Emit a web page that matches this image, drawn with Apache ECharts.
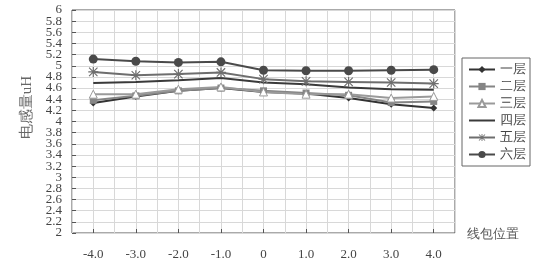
<!DOCTYPE html>
<html><head><meta charset="utf-8">
<script src="https://cdn.jsdelivr.net/npm/echarts@6/dist/echarts.min.js"></script>
<style>html,body{margin:0;padding:0;background:#fff}#c{width:540px;height:273px}</style>
</head><body><div id="c"></div>
<script>
const categories = ['-4.0','-3.0','-2.0','-1.0','0','1.0','2.0','3.0','4.0'];
const yTicks = [2, 2.2, 2.4, 2.6, 2.8, 3, 3.2, 3.4, 3.6, 3.8, 4, 4.2, 4.4, 4.6, 4.8, 5, 5.2, 5.4, 5.6, 5.8, 6];
const layer1 = [4.33, 4.45, 4.55, 4.60, 4.53, 4.50, 4.42, 4.31, 4.24];
const layer2 = [4.38, 4.46, 4.55, 4.60, 4.55, 4.51, 4.47, 4.34, 4.36];
const layer3 = [4.49, 4.49, 4.58, 4.62, 4.53, 4.49, 4.49, 4.42, 4.45];
const layer4 = [4.69, 4.71, 4.74, 4.78, 4.70, 4.67, 4.61, 4.58, 4.57];
const layer5 = [4.89, 4.83, 4.85, 4.88, 4.76, 4.72, 4.71, 4.70, 4.68];
const layer6 = [5.12, 5.08, 5.06, 5.07, 4.92, 4.91, 4.91, 4.92, 4.93];
const seriesNames = ['一层','二层','三层','四层','五层','六层'];
const yName = '电感量uH';
const xName = '线包位置';

const star = 'path://M0,4.4L10,4.4L10,5.6L0,5.6Z M4.4,0L5.6,0L5.6,10L4.4,10Z M1.2,0.4L9.6,8.8L8.8,9.6L0.4,1.2Z M8.8,0.4L9.6,1.2L1.2,9.6L0.4,8.8Z';
const font = 'Liberation Serif';
function mk(name, data, color, symbol, size, fill) {
  return {
    name, type: 'line', data, symbol, symbolSize: size, showSymbol: symbol !== 'none',
    lineStyle: {color, width: 2},
    itemStyle: {color: fill || color, borderColor: color, borderWidth: fill ? 1 : 0},
    xAxisIndex: 0, yAxisIndex: 0, animation: false
  };
}
const labelStyle = {fontSize: 13, color: '#444', fontFamily: font, margin: 10, hideOverlap: false,
  formatter: v => (Math.round(v * 10) / 10).toString()};
const chart = echarts.init(document.getElementById('c'));
chart.setOption({
  animation: false,
  backgroundColor: '#fff',
  grid: {left: 72, right: 85, top: 10, bottom: 40, show: true, borderColor: '#555', borderWidth: 1},
  legend: {
    orient: 'vertical', left: 462, top: 58,
    padding: [5, 4, 5, 6], itemGap: 4, itemWidth: 26, itemHeight: 9,
    borderColor: '#666', borderWidth: 1,
    textStyle: {fontSize: 13, color: '#444', fontFamily: font},
    data: seriesNames.map(n => n === '四层'
      ? {name: n, icon: 'path://M0,4L26,4L26,6L0,6Z'} : n)
  },
  xAxis: [{
    type: 'category', data: categories, boundaryGap: true,
    axisLine: {show: false},
    axisTick: {show: true, inside: true, alignWithLabel: true, length: 4, lineStyle: {color: '#555'}},
    axisLabel: {fontSize: 13, color: '#444', fontFamily: font, margin: 15},
    splitLine: {show: false}
  }, {
    type: 'value', min: 0, max: 18, interval: 1, position: 'bottom',
    axisLine: {show: false}, axisTick: {show: false}, axisLabel: {show: false},
    splitLine: {show: true, lineStyle: {color: '#d8d8d8', width: 1}}
  }],
  yAxis: [{
    type: 'value', min: 2, max: 6, interval: 0.2, position: 'left',
    axisLine: {show: false},
    axisTick: {show: true, inside: true, length: 4, lineStyle: {color: '#555'}},
    axisLabel: Object.assign({}, labelStyle, {customValues: yTicks.filter((v, i) => i % 2 === 0),
      showMinLabel: true, showMaxLabel: true}),
    splitLine: {show: true, lineStyle: {color: '#d8d8d8', width: 1}}
  }, {
    type: 'value', min: 2, max: 6, interval: 0.2, position: 'left', offset: 0,
    axisLine: {show: false}, axisTick: {show: false},
    axisLabel: Object.assign({}, labelStyle, {customValues: yTicks.filter((v, i) => i % 2 === 1),
      showMinLabel: true, showMaxLabel: true}),
    splitLine: {show: false}
  }],
  graphic: [
    {type: 'text', left: 20, top: 76, rotation: Math.PI / 2,
     style: {text: yName, fontSize: 15, fill: '#666', fontFamily: font}},
    {type: 'text', left: 467, top: 228,
     style: {text: xName, fontSize: 13, fill: '#555', fontFamily: font}}
  ],
  series: [
    mk(seriesNames[0], layer1, '#333', 'diamond', 7),
    mk(seriesNames[1], layer2, '#858585', 'rect', 7),
    mk(seriesNames[2], layer3, '#9a9a9a', 'triangle', 8, '#fff'),
    mk(seriesNames[3], layer4, '#3a3a3a', 'none', 0),
    mk(seriesNames[4], layer5, '#6e6e6e', star, 10),
    mk(seriesNames[5], layer6, '#4a4a4a', 'circle', 9)
  ]
});
</script></body></html>
